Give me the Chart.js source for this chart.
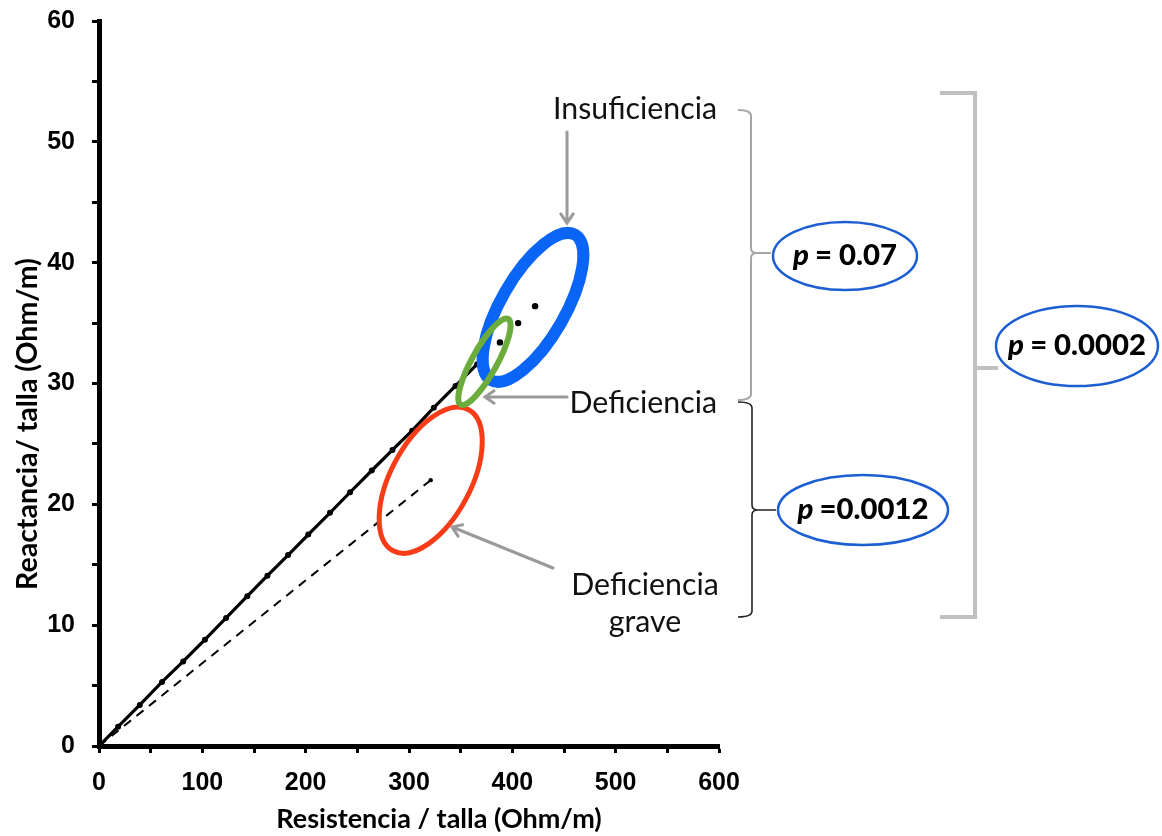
<!DOCTYPE html>
<html><head><meta charset="utf-8">
<script src="https://cdn.jsdelivr.net/npm/chart.js@4"></script>
<style>html,body{margin:0;padding:0;background:#fff}canvas{display:block}</style>
</head><body>
<canvas id="c" width="1162" height="836"></canvas>
<script>
// ---------- data ----------
const xTickLabels = [0, 100, 200, 300, 400, 500, 600];
const yTickLabels = [0, 10, 20, 30, 40, 50, 60];
const solidR  = [0, 18.5, 39.5, 61, 81.5, 102.5, 123, 143.5, 163, 183, 202.5, 223.5, 243, 264, 284, 303, 324, 345, 366];
const solidXc = [0, 1.6, 3.4, 5.3, 7.0, 8.8, 10.6, 12.4, 14.1, 15.8, 17.5, 19.3, 21.0, 22.8, 24.5, 26.1, 28.0, 29.8, 31.6];
const tailR  = [388, 405.6, 422];
const tailXc = [33.4, 35.0, 36.4];
const dashR  = [0, 321];
const dashXc = [0, 22.0];
const groupNames = ['Insuficiencia', 'Deficiencia grave', 'Deficiencia'];
const groupR  = [420, 321, 373];
const groupXc = [36.3, 22.0, 31.8];
const pValues = ['= 0.07', '=0.0012', '= 0.0002'];

// ---------- styles / layout ----------
const groupStyle = [
  {a: 84, b: 32, angle: 60, lw: 12, color: '#0a64f5'},
  {a: 80, b: 40, angle: 62, lw: 5,  color: '#f73c17'},
  {a: 49, b: 12.5, angle: 61, lw: 6, color: '#6cac3c'}
];
const LBL_FONT = 'Lato';
const labelLayout = [
  {text: 'Insuficiencia', x: 717, y: 119, align: 'right'},
  {text: 'Deficiencia',   x: 717, y: 413, align: 'right'},
  {text: 'Deficiencia',   x: 645, y: 595, align: 'center'},
  {text: 'grave',         x: 645, y: 632, align: 'center'}
];
const arrows = [[567,132,567,223],[567,397,485,397],[553,568,452,527]];
const pEllipses = [
  {cx: 845, cy: 256, rx: 72, ry: 34},
  {cx: 863, cy: 510, rx: 85, ry: 35},
  {cx: 1077, cy: 346, rx: 81, ry: 40}
];

function pts(xs, ys){ return xs.map((v,i)=>({x:v, y:ys[i]})); }

function fitSize(ctx, text, weight, style, family, target){
  ctx.font = style + ' ' + weight + ' 100px ' + family;
  return 100 * target / ctx.measureText(text).width;
}

const annot = {
  id: 'annot',
  afterDatasetsDraw(chart){
    const {ctx, scales:{x, y}} = chart;
    ctx.save();
    groupR.forEach((r, i) => {
      const s = groupStyle[i];
      ctx.beginPath();
      ctx.ellipse(x.getPixelForValue(r), y.getPixelForValue(groupXc[i]), s.a, s.b, -s.angle*Math.PI/180, 0, Math.PI*2);
      ctx.lineWidth = s.lw; ctx.strokeStyle = s.color; ctx.stroke();
    });
    ctx.restore();
  },
  afterDraw(chart){
    const {ctx} = chart;
    ctx.save();
    // axis titles
    ctx.fillStyle = '#000';
    ctx.textAlign = 'center'; ctx.textBaseline = 'middle';
    let ts = fitSize(ctx, 'Resistencia / talla (Ohm/m)', 'bold', 'normal', LBL_FONT, 326);
    ctx.font = 'bold ' + ts.toFixed(1) + 'px ' + LBL_FONT;
    ctx.fillText('Resistencia / talla (Ohm/m)', 439, 819);
    ts = fitSize(ctx, 'Reactancia/ talla (Ohm/m)', 'bold', 'normal', LBL_FONT, 332);
    ctx.font = 'bold ' + ts.toFixed(1) + 'px ' + LBL_FONT;
    ctx.save(); ctx.translate(28, 424); ctx.rotate(-Math.PI/2);
    ctx.fillText('Reactancia/ talla (Ohm/m)', 0, 0); ctx.restore();

    // labels
    const fs = fitSize(ctx, 'Insuficiencia', 'normal', 'normal', LBL_FONT, 164);
    ctx.font = fs.toFixed(1) + 'px ' + LBL_FONT;
    ctx.textBaseline = 'alphabetic';
    ctx.fillStyle = '#111';
    labelLayout.forEach(l => { ctx.textAlign = l.align; ctx.fillText(l.text, l.x, l.y); });

    // arrows
    ctx.strokeStyle = '#9a9a9a'; ctx.lineWidth = 3; ctx.lineCap = 'round';
    arrows.forEach(([x1,y1,x2,y2]) => {
      const ang = Math.atan2(y2-y1, x2-x1), h = 11, sp = 0.6;
      ctx.beginPath(); ctx.moveTo(x1,y1); ctx.lineTo(x2,y2);
      ctx.moveTo(x2 - h*Math.cos(ang-sp), y2 - h*Math.sin(ang-sp));
      ctx.lineTo(x2, y2);
      ctx.lineTo(x2 - h*Math.cos(ang+sp), y2 - h*Math.sin(ang+sp));
      ctx.stroke();
    });

    // braces
    function brace(xl, xv, xn, yt, ym, yb, color, lw){
      ctx.beginPath();
      ctx.moveTo(xl, yt); ctx.quadraticCurveTo(xv, yt, xv, yt+6);
      ctx.lineTo(xv, ym-5); ctx.quadraticCurveTo(xv, ym, xv+6, ym); ctx.lineTo(xn, ym);
      ctx.moveTo(xv+6, ym); ctx.quadraticCurveTo(xv, ym, xv, ym+5);
      ctx.lineTo(xv, yb-6); ctx.quadraticCurveTo(xv, yb, xl, yb);
      ctx.strokeStyle = color; ctx.lineWidth = lw; ctx.lineCap = 'butt'; ctx.stroke();
    }
    brace(738, 751, 771, 110, 253, 400, '#a6a6a6', 2);
    brace(738, 752, 776, 402, 510, 617, '#222', 1.6);
    ctx.beginPath();
    ctx.moveTo(940, 93); ctx.lineTo(975, 93); ctx.lineTo(975, 617); ctx.lineTo(940, 617);
    ctx.moveTo(975, 368); ctx.lineTo(998, 368);
    ctx.strokeStyle = '#c0c0c0'; ctx.lineWidth = 4; ctx.stroke();

    // p-value ellipses
    const pfs = fitSize(ctx, 'p = 0.0002', 'bold', 'normal', LBL_FONT, 140);
    pEllipses.forEach((e, i) => {
      ctx.beginPath(); ctx.ellipse(e.cx, e.cy, e.rx, e.ry, 0, 0, Math.PI*2);
      ctx.fillStyle = '#fff'; ctx.fill();
      ctx.strokeStyle = '#1d5fd3'; ctx.lineWidth = 2.5; ctx.stroke();
      const fI = 'italic 900 ' + pfs.toFixed(1) + 'px ' + LBL_FONT;
      const fB = '900 ' + pfs.toFixed(1) + 'px ' + LBL_FONT;
      ctx.font = fI; const wp = ctx.measureText('p ').width;
      ctx.font = fB; const wr = ctx.measureText(pValues[i]).width;
      const x0 = e.cx - (wp + wr)/2;
      ctx.fillStyle = '#000'; ctx.textAlign = 'left'; ctx.textBaseline = 'middle';
      ctx.font = fI; ctx.fillText('p ', x0, e.cy);
      ctx.font = fB; ctx.fillText(pValues[i], x0 + wp, e.cy);
    });
    ctx.restore();
  }
};

const tickFont = {family: '"Liberation Sans", Arial, sans-serif', size: 25, weight: 'bold'};

new Chart(document.getElementById('c'), {
  type: 'scatter',
  data: {
    datasets: [
      {data: pts(solidR, solidXc), showLine: true, borderColor: '#000', borderWidth: 3.2,
       pointRadius: solidR.map((v,i)=> i===0 ? 0 : 3), pointBackgroundColor: '#000', pointBorderWidth: 0},
      {data: pts(tailR, tailXc), showLine: false, pointRadius: 3.2, pointBackgroundColor: '#000', pointBorderWidth: 0},
      {data: pts(dashR, dashXc), showLine: true, borderColor: '#000', borderWidth: 2, borderDash: [9, 7],
       pointRadius: [0, 2.2], pointBackgroundColor: '#000', pointBorderWidth: 0}
    ]
  },
  options: {
    responsive: false, animation: false, events: [],
    layout: {padding: {left: 0, top: 21, right: 443, bottom: 0}},
    plugins: {legend: {display: false}, tooltip: {enabled: false}},
    scales: {
      x: {
        type: 'linear', min: 0, max: 600,
        ticks: {stepSize: 50, autoSkip: false, maxRotation: 0, padding: 15, color: '#000', font: tickFont,
                callback: v => xTickLabels.includes(v) ? String(v) : ''},
        grid: {drawOnChartArea: false, drawTicks: true, tickLength: 7, tickWidth: 3, tickColor: '#000'},
        border: {display: true, color: '#000', width: 5},
        afterFit(s){ s.height = 90; s.paddingLeft = 0; s.paddingRight = 0; }
      },
      y: {
        type: 'linear', min: 0, max: 60,
        ticks: {stepSize: 5, autoSkip: false, padding: 17, color: '#000', font: tickFont,
                callback: v => yTickLabels.includes(v) ? String(v) : ''},
        grid: {drawOnChartArea: false, drawTicks: true, tickLength: 7, tickWidth: 3, tickColor: '#000'},
        border: {display: true, color: '#000', width: 5},
        afterFit(s){ s.width = 99; s.paddingTop = 0; s.paddingBottom = 0; }
      }
    }
  },
  plugins: [annot]
});
</script>
</body></html>
